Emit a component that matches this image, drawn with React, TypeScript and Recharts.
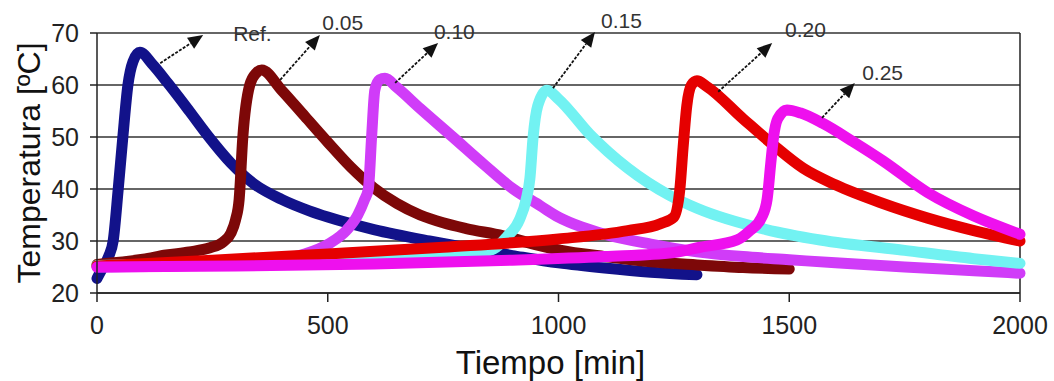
import React from "react";
import {
  LineChart,
  Line,
  XAxis,
  YAxis,
  CartesianGrid,
  ReferenceLine,
  ReferenceDot,
} from "recharts";

// Curvas de temperatura (tiempo en min, temperatura en ºC)
const refTime = [0, 10, 25, 35, 46, 56, 67, 78, 93, 120, 154, 200, 238, 290, 340, 400, 460, 500, 600, 720, 800, 900, 1000, 1100, 1200, 1300];
const refTemp = [22.8, 24.5, 27, 30, 40, 50, 60, 64.5, 66.3, 64, 60.3, 55, 50.5, 45, 41, 38, 35.8, 34.6, 32.2, 30, 28.7, 27.2, 25.8, 24.8, 24, 23.5];

const t005Time = [0, 100, 150, 200, 245, 273, 290, 300, 308, 316, 331, 345, 357, 400, 450, 500, 550, 600, 650, 700, 750, 800, 880, 950, 1000, 1100, 1200, 1300, 1400, 1500];
const t005Temp = [25.5, 26.5, 27.3, 27.9, 28.7, 29.8, 31.5, 34, 38, 50, 60, 62.3, 62.9, 59, 54, 49, 44.2, 40.2, 37.2, 35, 33.5, 32.4, 31, 29.3, 28.3, 27, 26, 25.4, 24.9, 24.6];

const t010Time = [0, 200, 380, 450, 505, 540, 565, 580, 588, 595, 602, 612, 624, 650, 700, 771, 840, 902, 960, 1000, 1050, 1100, 1200, 1300, 1400, 1500, 1600, 1750, 1900, 2000];
const t010Temp = [25, 25.3, 26.3, 27.5, 29.6, 32, 35, 38, 40, 50, 59, 61, 61.3, 59.5, 55.5, 50, 44.6, 40, 36.8, 34.6, 32.7, 31.3, 29.4, 27.9, 27, 26.4, 25.8, 25, 24.3, 23.8];

const t015Time = [0, 400, 700, 800, 860, 888, 915, 930, 938, 945, 955, 975, 1000, 1068, 1150, 1240, 1300, 1450, 1567, 1750, 1900, 2000];
const t015Temp = [25.3, 26, 26.8, 27.3, 28.5, 30.8, 34, 38, 42, 50, 56, 59, 57.3, 50.5, 44, 38.8, 36.3, 32.2, 30.2, 28.2, 26.6, 25.7];

const t020Time = [0, 250, 500, 750, 1000, 1150, 1220, 1250, 1263, 1270, 1278, 1288, 1300, 1320, 1400, 1465, 1530, 1600, 1700, 1800, 1900, 2000];
const t020Temp = [25.2, 26.3, 27.5, 28.8, 30.4, 32, 33.3, 34.6, 40, 48, 56, 60, 60.8, 59.8, 53.5, 48.5, 44, 40.8, 37.3, 34.4, 32, 30];

const t025Time = [0, 300, 600, 900, 1100, 1250, 1307, 1387, 1415, 1440, 1452, 1460, 1466, 1475, 1495, 1525, 1573, 1640, 1703, 1800, 1900, 2000];
const t025Temp = [25, 25.2, 25.6, 26.3, 27, 27.8, 28.8, 30.2, 32, 34.5, 38, 45, 50, 53.5, 55.2, 54.6, 52.6, 49, 45.4, 39.3, 34.8, 31.3];

const xTicks = [0, 500, 1000, 1500, 2000];
const yTicks = [20, 30, 40, 50, 60, 70];

// Etiquetas de las curvas: texto, punto de la flecha en la curva, punta y posición del texto
const labels = ["Ref.", "0.05", "0.10", "0.15", "0.20", "0.25"];
const arrowFrom = [[137, 64.2], [397, 61], [646, 60.4], [988, 59.4], [1346, 58.7], [1571, 53.7]];
const arrowTo = [[230, 69.6], [483, 69.6], [739, 68.1], [1079, 70.2], [1463, 68.1], [1642, 60.4]];
const labelAt = [[295, 70], [488, 72.1], [730, 70.2], [1092, 72.5], [1491, 70.6], [1658, 62.5]];

const zip = (time: number[], temp: number[]) => time.map((t, i) => ({ t, v: temp[i] }));

const series = [
  { name: "Ref.", data: zip(refTime, refTemp), color: "#12128a" },
  { name: "0.05", data: zip(t005Time, t005Temp), color: "#7d0808" },
  { name: "0.10", data: zip(t010Time, t010Temp), color: "#d03cf8" },
  { name: "0.15", data: zip(t015Time, t015Temp), color: "#72f2f2" },
  { name: "0.20", data: zip(t020Time, t020Temp), color: "#e50000" },
  { name: "0.25", data: zip(t025Time, t025Temp), color: "#ee10ee" },
];

function Arrow(props: any) {
  const { x1, y1, x2, y2 } = props;
  const a = Math.atan2(y2 - y1, x2 - x1);
  const len = 15;
  const half = 6.5;
  const bx = x2 - len * Math.cos(a);
  const by = y2 - len * Math.sin(a);
  const pts = [
    `${x2},${y2}`,
    `${bx - half * Math.sin(a)},${by + half * Math.cos(a)}`,
    `${bx + half * Math.sin(a)},${by - half * Math.cos(a)}`,
  ].join(" ");
  return (
    <g>
      <line x1={x1} y1={y1} x2={bx} y2={by} stroke="#111" strokeWidth={1.8} strokeDasharray="3 1.5" />
      <polygon points={pts} fill="#111" />
    </g>
  );
}

export default function App() {
  return (
    <div style={{ position: "absolute", left: 0, top: 0, fontFamily: "'Liberation Sans', Arial, sans-serif", background: "#fff" }}>
      <LineChart width={1054} height={381} margin={{ top: 33, right: 34, left: 0, bottom: 0 }}>
        <CartesianGrid vertical={false} stroke="#333" strokeWidth={1.5} />
        <XAxis
          dataKey="t"
          type="number"
          domain={[0, 2000]}
          ticks={xTicks}
          allowDuplicatedCategory={false}
          height={88}
          tickSize={9}
          tickMargin={14}
          tick={{ fill: "#222", fontSize: 25 }}
          axisLine={{ stroke: "#222", strokeWidth: 1.5 }}
          tickLine={{ stroke: "#222", strokeWidth: 1.5 }}
          label={{ value: "Tiempo [min]", position: "center", dx: -8, dy: 25, fill: "#111", fontSize: 33 }}
        />
        <YAxis
          type="number"
          domain={[20, 70]}
          ticks={yTicks}
          width={97}
          tickSize={7}
          tickMargin={11}
          tick={{ fill: "#222", fontSize: 25 }}
          axisLine={{ stroke: "#222", strokeWidth: 1.5 }}
          tickLine={{ stroke: "#222", strokeWidth: 1.5 }}
          label={{ value: "Temperatura [ºC]", angle: -90, position: "center", dx: -20, fill: "#111", fontSize: 32 }}
        />
        <ReferenceLine x={2000} stroke="#222" strokeWidth={1.5} />
        {series.map((s) => (
          <Line
            key={s.name}
            data={s.data}
            dataKey="v"
            name={s.name}
            type="monotone"
            stroke={s.color}
            strokeWidth={11}
            strokeLinecap="round"
            strokeLinejoin="round"
            dot={false}
            activeDot={false}
            isAnimationActive={false}
          />
        ))}
        {labels.map((l, i) => (
          <ReferenceLine
            key={"a" + l}
            segment={[
              { x: arrowFrom[i][0], y: arrowFrom[i][1] },
              { x: arrowTo[i][0], y: arrowTo[i][1] },
            ]}
            ifOverflow="visible"
            shape={Arrow}
          />
        ))}
        {labels.map((l, i) => (
          <ReferenceDot
            key={"l" + l}
            x={labelAt[i][0]}
            y={labelAt[i][1]}
            r={0}
            ifOverflow="visible"
            shape={(p: any) => (
              <text x={p.cx} y={p.cy} dominantBaseline="central" fontSize={21} fill="#333">
                {l}
              </text>
            )}
          />
        ))}
      </LineChart>
    </div>
  );
}
